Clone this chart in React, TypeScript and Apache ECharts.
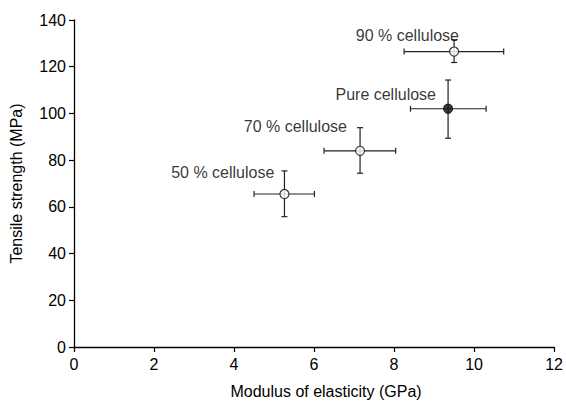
import React, { useEffect, useRef } from "react";
import * as echarts from "echarts";

const pointLabels = ["50 % cellulose", "70 % cellulose", "Pure cellulose", "90 % cellulose"];
const modulus = [5.26, 7.15, 9.35, 9.5];
const modulusLow = [4.5, 6.25, 8.41, 8.25];
const modulusHigh = [6.01, 8.04, 10.3, 10.74];
const strength = [65.5, 84.0, 102.0, 126.5];
const strengthLow = [55.8, 74.4, 89.4, 121.8];
const strengthHigh = [75.4, 93.9, 114.3, 131.5];
const filled = [false, false, true, false];
const xTicks = [0, 2, 4, 6, 8, 10, 12];
const yTicks = [0, 20, 40, 60, 80, 100, 120, 140];

const labelOffsets: number[][] = [
  [0, -22],
  [-3, -24],
  [-2, -14],
  [15, -16],
];

const FONT = "'Liberation Sans', Arial, Helvetica, sans-serif";

export default function App() {
  const ref = useRef<HTMLDivElement>(null);
  useEffect(() => {
    if (!ref.current) return;
    const chart = echarts.init(ref.current, null, { renderer: "svg" });
    const errData = modulus.map((m, i) => [m, strength[i], modulusLow[i], modulusHigh[i], strengthLow[i], strengthHigh[i]]);
    const cap = 3;
    const axisCommon = {
      axisLine: { show: true, lineStyle: { color: "#000", width: 1.3 } },
      axisTick: { show: true, inside: false, length: 5, lineStyle: { color: "#000", width: 1.2 } },
      splitLine: { show: false },
      axisLabel: { color: "#000", fontSize: 16, fontFamily: FONT },
      nameTextStyle: { color: "#000", fontSize: 16, fontFamily: FONT },
    };
    chart.setOption({
      animation: false,
      backgroundColor: "#fff",
      grid: { left: 72, right: 9, top: 20, bottom: 51, containLabel: false },
      xAxis: {
        type: "value",
        min: 0,
        max: 12,
        interval: 2,
        name: "Modulus of elasticity (GPa)",
        nameLocation: "middle",
        nameGap: 36,
        ...axisCommon,
        axisLabel: { ...axisCommon.axisLabel, margin: 9, formatter: (v: number) => (xTicks.includes(v) ? String(v) : "") },
        nameTextStyle: { ...axisCommon.nameTextStyle, padding: [0, 0, 0, 24] },
      },
      yAxis: {
        type: "value",
        min: 0,
        max: 140,
        interval: 20,
        name: "Tensile strength (MPa)",
        nameLocation: "middle",
        nameGap: 50,
        ...axisCommon,
        axisLabel: { ...axisCommon.axisLabel, margin: 8, formatter: (v: number) => (yTicks.includes(v) ? String(v) : "") },
      },
      series: [
        {
          type: "custom",
          data: errData,
          z: 2,
          renderItem: (params: any, api: any) => {
            const xl = api.coord([api.value(2), api.value(1)]);
            const xh = api.coord([api.value(3), api.value(1)]);
            const yl = api.coord([api.value(0), api.value(4)]);
            const yh = api.coord([api.value(0), api.value(5)]);
            const style = { stroke: "#222", lineWidth: 1.2 };
            return {
              type: "group",
              children: [
                { type: "line", shape: { x1: xl[0], y1: xl[1], x2: xh[0], y2: xh[1] }, style },
                { type: "line", shape: { x1: xl[0], y1: xl[1] - cap, x2: xl[0], y2: xl[1] + cap }, style },
                { type: "line", shape: { x1: xh[0], y1: xh[1] - cap, x2: xh[0], y2: xh[1] + cap }, style },
                { type: "line", shape: { x1: yl[0], y1: yl[1], x2: yh[0], y2: yh[1] }, style },
                { type: "line", shape: { x1: yl[0] - cap, y1: yl[1], x2: yl[0] + cap, y2: yl[1] }, style },
                { type: "line", shape: { x1: yh[0] - cap, y1: yh[1], x2: yh[0] + cap, y2: yh[1] }, style },
              ],
            };
          },
        },
        {
          type: "scatter",
          z: 3,
          symbol: "circle",
          symbolSize: 9,
          data: modulus.map((m, i) => ({
            value: [m, strength[i]],
            name: pointLabels[i],
            itemStyle: { color: filled[i] ? "#111" : "#fff", borderColor: "#111", borderWidth: 1.2 },
            label: {
              show: true,
              position: "left",
              distance: 5,
              offset: labelOffsets[i],
              formatter: pointLabels[i],
              color: "#000",
              fontSize: 16,
              fontFamily: FONT,
            },
          })),
        },
      ],
    });
    return () => chart.dispose();
  }, []);
  return <div ref={ref} style={{ width: 566, height: 404, position: "absolute", left: 0, top: 0 }} />;
}
